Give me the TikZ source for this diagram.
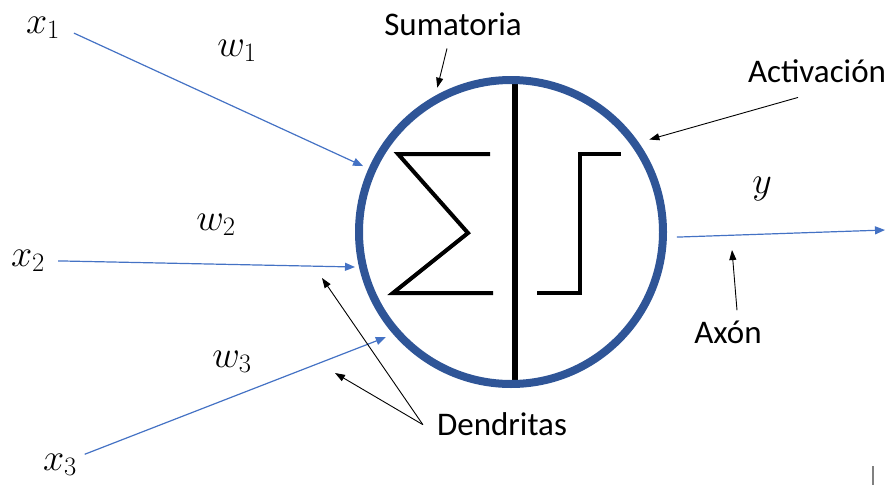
\RequirePackage{fix-cm}
\documentclass[tikz,border=0pt]{standalone}
\usepackage[no-math]{fontspec}
\setmainfont{Carlito}
\usepackage{tikz}
\usetikzlibrary{arrows.meta, positioning}
\definecolor{ringblue}{RGB}{47,85,151}
\definecolor{inblue}{RGB}{68,114,196}
\tikzset{
  txt/.style={font=\fontsize{33}{40}\selectfont, anchor=base, inner sep=2pt},
  mth/.style={font=\fontsize{38}{44}\selectfont, anchor=base, inner sep=2pt},
  inarrow/.style={-{Triangle[length=10pt,width=8pt]}, line width=1.2pt, color=inblue},
  callout/.style={-{Triangle[length=10pt,width=7pt]}, line width=0.9pt, color=black},
  glyph/.style={line width=4pt, color=black}
}

\begin{document}
\begin{tikzpicture}[x=1pt, y=-1pt]
\useasboundingbox (0,0) rectangle (892,485);
\draw[line width=6pt] (515,84) -- (515,380);
\node[circle, draw=ringblue, line width=8pt, minimum size=304pt, inner sep=0pt] (neuron) at (511,232) {};
\draw[glyph] (490,154) -- (398,154) -- (468,233) -- (393,293) -- (493,293);
\draw[glyph] (537,293) -- (580,293) -- (580,154) -- (621,154);
\foreach \i/\px/\py in {1/43/33, 2/28/266, 3/60/470} {
  \node[mth] (x\i) at (\px,\py) {$x_\i$};
}
\foreach \i/\px/\py in {1/237/56, 2/216/230, 3/232/367} {
  \node[mth] (w\i) at (\px,\py) {$w_\i$};
}
\node[mth] (yout lbl) at (762,193) {$y$};
\node[txt] (sum) at (453,35) {Sumatoria};
\node[txt] (act) at (817,82) {Activación};
\node[txt] (axon) at (728,343) {Axón};
\node[txt] (dend) at (502,435) {Dendritas};
\coordinate (yout) at (885,230);
\coordinate (axtip) at (732,250);
\coordinate (den1) at (322,278);
\coordinate (den2) at (335,373);
\draw[inarrow, shorten <=13pt, shorten >=6pt] (x1.east) -- (neuron.156);
\draw[inarrow, shorten <=11pt, shorten >=4pt] (x2.east) -- (neuron.193);
\draw[inarrow, shorten <=6pt, shorten >=8pt] ([yshift=-5pt]x3.north east) -- (neuron.221);
\draw[inarrow, shorten <=10pt] (neuron.-2) -- (yout);
\draw[callout, shorten >=8pt] ([xshift=-6pt,yshift=-11pt]sum.south) -- (neuron.119);
\draw[callout, shorten >=11pt] ([xshift=-19pt,yshift=-13pt]act.south) -- (neuron.35.5);
\draw[callout] ([xshift=9pt,yshift=8pt]axon.north) -- (axtip);
\draw[callout] ([xshift=-12pt,yshift=-1pt]dend.west) -- (den1);
\draw[callout] ([xshift=-12pt,yshift=-1pt]dend.west) -- (den2);
\draw[gray, line width=1.2pt] (873,466) -- (873,485);
\end{tikzpicture}
\end{document}
